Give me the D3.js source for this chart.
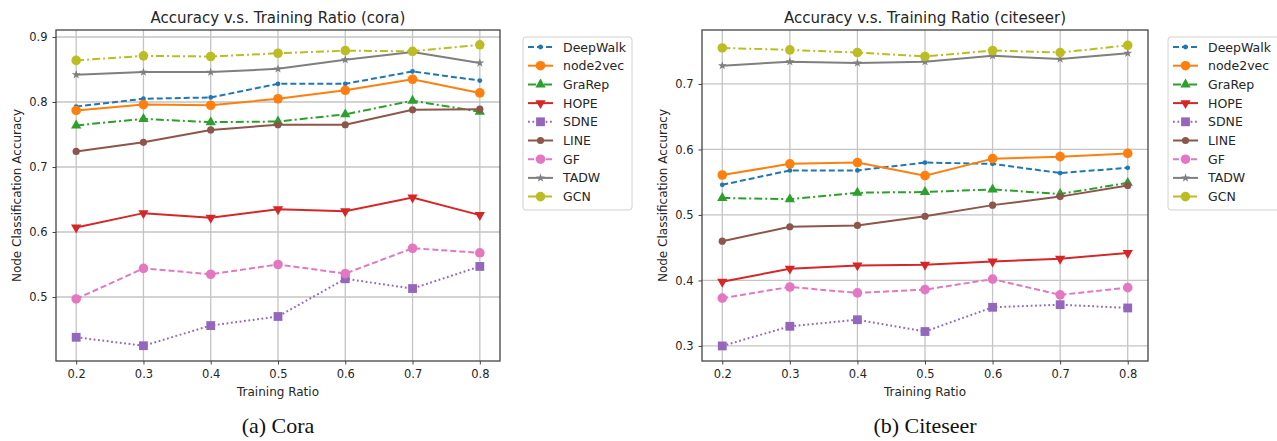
<!DOCTYPE html>
<html>
<head>
<meta charset="utf-8">
<script src="https://cdn.jsdelivr.net/npm/d3@7"></script>
<style>
	body{margin:0;background:#fff;}
	svg{display:block;}
</style>
</head>
<body>
<svg id="fig" width="1277" height="441"></svg>
<script>
// data
var ratios = [0.2, 0.3, 0.4, 0.5, 0.6, 0.7, 0.8];
var methods = ["DeepWalk","node2vec","GraRep","HOPE","SDNE","LINE","GF","TADW","GCN"];

var cora_deepwalk = [0.793, 0.805, 0.807, 0.828, 0.828, 0.847, 0.833];
var cora_node2vec = [0.787, 0.796, 0.795, 0.805, 0.818, 0.835, 0.814];
var cora_grarep   = [0.764, 0.774, 0.769, 0.770, 0.781, 0.802, 0.785];
var cora_hope     = [0.607, 0.629, 0.622, 0.635, 0.632, 0.653, 0.626];
var cora_sdne     = [0.438, 0.425, 0.456, 0.470, 0.528, 0.513, 0.547];
var cora_line     = [0.724, 0.738, 0.757, 0.765, 0.765, 0.788, 0.789];
var cora_gf       = [0.497, 0.544, 0.535, 0.550, 0.536, 0.575, 0.568];
var cora_tadw     = [0.842, 0.846, 0.846, 0.851, 0.865, 0.877, 0.860];
var cora_gcn      = [0.864, 0.871, 0.870, 0.875, 0.879, 0.878, 0.888];

var cite_deepwalk = [0.546, 0.568, 0.568, 0.580, 0.578, 0.564, 0.572];
var cite_node2vec = [0.561, 0.578, 0.580, 0.560, 0.586, 0.589, 0.594];
var cite_grarep   = [0.526, 0.524, 0.534, 0.535, 0.539, 0.532, 0.549];
var cite_hope     = [0.398, 0.418, 0.423, 0.424, 0.429, 0.433, 0.442];
var cite_sdne     = [0.300, 0.330, 0.340, 0.322, 0.359, 0.363, 0.358];
var cite_line     = [0.460, 0.482, 0.484, 0.498, 0.515, 0.528, 0.545];
var cite_gf       = [0.373, 0.390, 0.381, 0.386, 0.402, 0.378, 0.389];
var cite_tadw     = [0.728, 0.734, 0.732, 0.734, 0.743, 0.738, 0.747];
var cite_gcn      = [0.755, 0.752, 0.748, 0.742, 0.751, 0.748, 0.759];

var x_ticks = [0.2, 0.3, 0.4, 0.5, 0.6, 0.7, 0.8];
var cora_y_ticks = [0.5, 0.6, 0.7, 0.8, 0.9];
var cite_y_ticks = [0.3, 0.4, 0.5, 0.6, 0.7];

// styles per method
var colors = ["#1f77b4","#ff7f0e","#2ca02c","#d62728","#9467bd","#8c564b","#e377c2","#7f7f7f","#bcbd22"];
var dashes = ["6,3", null, "8,3,2,3", null, "1.8,2.6", null, "6,3", null, "8,3,2,3"];
var markers = ["dot","circle","tri","tridown","square","pent","circle","star","circle"];

var SANS = "DejaVu Sans", TXT = "#262626";
var svg = d3.select("#fig");

function draw_marker(g, type, x, y, c){
	var m, t = "";
	if(type=="dot") m = g.append("circle").attr("r", 2.4);
	else if(type=="circle") m = g.append("circle").attr("r", 4.8);
	else if(type=="square") m = g.append("rect").attr("x",-4.4).attr("y",-4.4).attr("width",8.8).attr("height",8.8);
	else if(type=="tri") m = g.append("path").attr("d", d3.symbol(d3.symbolTriangle, 46)());
	else if(type=="tridown"){ m = g.append("path").attr("d", d3.symbol(d3.symbolTriangle, 46)()); t = " rotate(180)"; }
	else if(type=="pent") m = g.append("circle").attr("r", 3.6);
	else if(type=="star") m = g.append("path").attr("d", d3.symbol(d3.symbolStar, 24)());
	m.attr("fill", c).attr("transform", "translate("+x+","+y+")"+t);
}

function txt(g, s, size){
	return g.append("text").text(s).style("font-family", SANS).style("font-size", size+"px").style("fill", TXT);
}

function draw_chart(cfg){
	var g = svg.append("g");
	var x = d3.scaleLinear().domain([0.17, 0.83]).range([cfg.left, cfg.right]);
	var y = d3.scaleLinear().domain(cfg.ydom).range([cfg.bottom, cfg.top]);

	// grid
	g.selectAll(".gx").data(x_ticks).enter().append("line")
		.attr("x1", function(d){return x(d)}).attr("x2", function(d){return x(d)})
		.attr("y1", cfg.top).attr("y2", cfg.bottom)
		.attr("stroke", "#c4c4c4").attr("stroke-width", 1.3);
	g.selectAll(".gy").data(cfg.yticks).enter().append("line")
		.attr("y1", function(d){return y(d)}).attr("y2", function(d){return y(d)})
		.attr("x1", cfg.left).attr("x2", cfg.right)
		.attr("stroke", "#c4c4c4").attr("stroke-width", 1.3);

	// axes
	var xa = g.append("g").attr("transform", "translate(0,"+cfg.bottom+")")
		.call(d3.axisBottom(x).tickValues(x_ticks).tickSize(3.5).tickPadding(5).tickFormat(d3.format(".1f")));
	var ya = g.append("g").attr("transform", "translate("+cfg.left+",0)")
		.call(d3.axisLeft(y).tickValues(cfg.yticks).tickSize(3.5).tickPadding(5).tickFormat(d3.format(".1f")));
	[xa, ya].forEach(function(a){
		a.select(".domain").remove();
		a.selectAll("line").attr("stroke", "#444");
		a.selectAll("text").style("font-size", "11.5px").style("fill", TXT).style("font-family", SANS);
	});
	g.append("rect").attr("x", cfg.left).attr("y", cfg.top)
		.attr("width", cfg.right-cfg.left).attr("height", cfg.bottom-cfg.top)
		.attr("fill", "none").attr("stroke", "#444").attr("stroke-width", 1.3);

	// series
	var line = d3.line().x(function(d,i){return x(ratios[i])}).y(function(d){return y(d)});
	cfg.series.forEach(function(s, k){
		g.append("path").attr("d", line(s)).attr("fill","none")
			.attr("stroke", colors[k]).attr("stroke-width", 2)
			.attr("stroke-dasharray", dashes[k]);
		s.forEach(function(v, i){
			draw_marker(g, markers[k], x(ratios[i]), y(v), colors[k]);
		});
	});

	// texts
	var cx = (cfg.left+cfg.right)/2;
	txt(g, cfg.title, 15).attr("x", cx).attr("y", 23).attr("text-anchor","middle");
	txt(g, "Training Ratio", 12).attr("x", cx).attr("y", 396).attr("text-anchor","middle");
	txt(g, "Node Classification Accuracy", 12)
		.attr("transform", "translate("+(cfg.left-35)+","+((cfg.top+cfg.bottom)/2)+") rotate(-90)")
		.attr("text-anchor","middle");
	g.append("text").attr("x", cx).attr("y", 433).attr("text-anchor","middle")
		.style("font-size", "22px").style("font-family", "Liberation Serif").style("fill","#111")
		.text(cfg.caption);

	// legend
	var lg = g.append("g").attr("transform", "translate("+cfg.legx+",37)");
	lg.append("rect").attr("x",0).attr("y",0).attr("width", cfg.legw).attr("height", 173)
		.attr("rx", 3).attr("fill","#fff").attr("stroke","#d0d0d0").attr("stroke-width",1);
	methods.forEach(function(m, k){
		var yy = 10 + k*18.7;
		lg.append("line").attr("x1", 5).attr("x2", 30).attr("y1", yy).attr("y2", yy)
			.attr("stroke", colors[k]).attr("stroke-width", 2).attr("stroke-dasharray", dashes[k]);
		draw_marker(lg, markers[k], 17.5, yy, colors[k]);
		txt(lg, m, 12.5).attr("x", 40).attr("y", yy+4.5);
	});
}

draw_chart({
	left: 56, right: 500, top: 30, bottom: 361,
	ydom: [0.4015, 0.9108], yticks: cora_y_ticks,
	series: [cora_deepwalk, cora_node2vec, cora_grarep, cora_hope, cora_sdne, cora_line, cora_gf, cora_tadw, cora_gcn],
	title: "Accuracy v.s. Training Ratio (cora)", caption: "(a) Cora",
	legx: 523, legw: 109
});
draw_chart({
	left: 702, right: 1148, top: 30, bottom: 361,
	ydom: [0.277, 0.7824], yticks: cite_y_ticks,
	series: [cite_deepwalk, cite_node2vec, cite_grarep, cite_hope, cite_sdne, cite_line, cite_gf, cite_tadw, cite_gcn],
	title: "Accuracy v.s. Training Ratio (citeseer)", caption: "(b) Citeseer",
	legx: 1168, legw: 115
});
</script>
</body>
</html>
